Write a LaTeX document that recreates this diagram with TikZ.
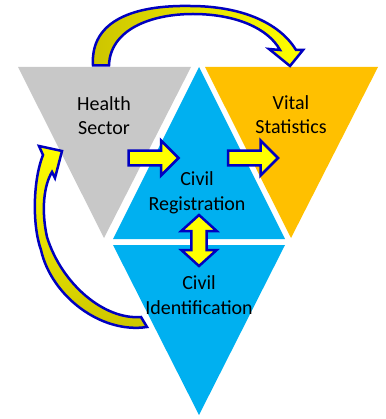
\documentclass[tikz,border=0pt]{standalone}
\usepackage{fontspec}
\setmainfont{Carlito}
\definecolor{sectorGray}{HTML}{C8C8C8}
\definecolor{statOrange}{HTML}{FFC000}
\definecolor{civilBlue}{HTML}{00B0F0}
\definecolor{arrowBlue}{HTML}{0000C0}
\definecolor{arrowYellow}{HTML}{FFFF00}
\definecolor{arrowOlive}{HTML}{CCC400}

\begin{document}
\begin{tikzpicture}
[x=1pt,y=-1pt,%
  textDecorate/.style={align=center,inner sep=0pt,font=\fontsize{20}{24.4}\selectfont},%
  arrowDecorate/.style={draw=arrowBlue,line width=2.5pt,fill=arrowYellow,line join=miter},%
  curveDecorate/.style={draw=arrowBlue,line width=2.5pt,line join=miter}]
\useasboundingbox (0,0) rectangle (385,419);
%% triangles
\foreach \col/\ax/\ay/\bx/\by/\cx/\cy in {
  sectorGray/18/67/191/67/104/238, statOrange/205/67/378/67/291/238,
  civilBlue/199/67/113/239/285/239, civilBlue/113/245/285/245/199/415}
{
  \fill[\col] (\ax,\ay) -- (\bx,\by) -- (\cx,\cy) -- cycle;
}
%% labels
\node[textDecorate] (health) at (104,115.6) {Health\\Sector};
\node[textDecorate] (vital) at (291,114.6) {Vital\\Statistics};
\node[textDecorate] (civreg) at (197,192.7) {Civil\\Registration};
\node[textDecorate] (civid) at (199,295) {Civil\\Identification};
%% block arrows
\foreach \name/\x/\y in {toReg/153.5/158, toVital/253/158}
{
  \coordinate (\name) at (\x,\y);
  \draw[arrowDecorate,shift={(\name)}] (-25,-7.3) -- (7.5,-7.3) -- (7.5,-17.5)
    -- (25,0) -- (7.5,17.5) -- (7.5,7.3) -- (-25,7.3) -- cycle;
}
\coordinate (regId) at (199,240.5);
\draw[arrowDecorate,shift={(regId)}] (0,-25.5) -- (17.7,-9.5) -- (7.7,-9.5)
  -- (7.7,9.5) -- (17.7,9.5) -- (0,25.5) -- (-17.7,9.5) -- (-7.7,9.5)
  -- (-7.7,-9.5) -- (-17.7,-9.5) -- cycle;
%% curved arrows
\path[curveDecorate,left color=arrowOlive,right color=arrowYellow]
  (93,65.5) .. controls (90,20) and (135,5) .. (190,6)
  .. controls (240,6) and (279,22) .. (296,50) -- (303,50) -- (290,66)
  -- (269,49) -- (280,50) .. controls (268,28) and (235,14) .. (193,14)
  .. controls (150,14) and (110,30) .. (109,65.5) -- cycle;
\path[curveDecorate,top color=arrowYellow,bottom color=arrowOlive]
  (52,172) -- (55,178) -- (62,151) -- (39,146) -- (43,155)
  .. controls (33,180) and (32,225) .. (41,250)
  .. controls (51,295) and (100,334) .. (147,327) -- (141,317)
  .. controls (105,320) and (62,285) .. (47,237)
  .. controls (41,210) and (44,185) .. (52,172) -- cycle;
\end{tikzpicture}
\end{document}
